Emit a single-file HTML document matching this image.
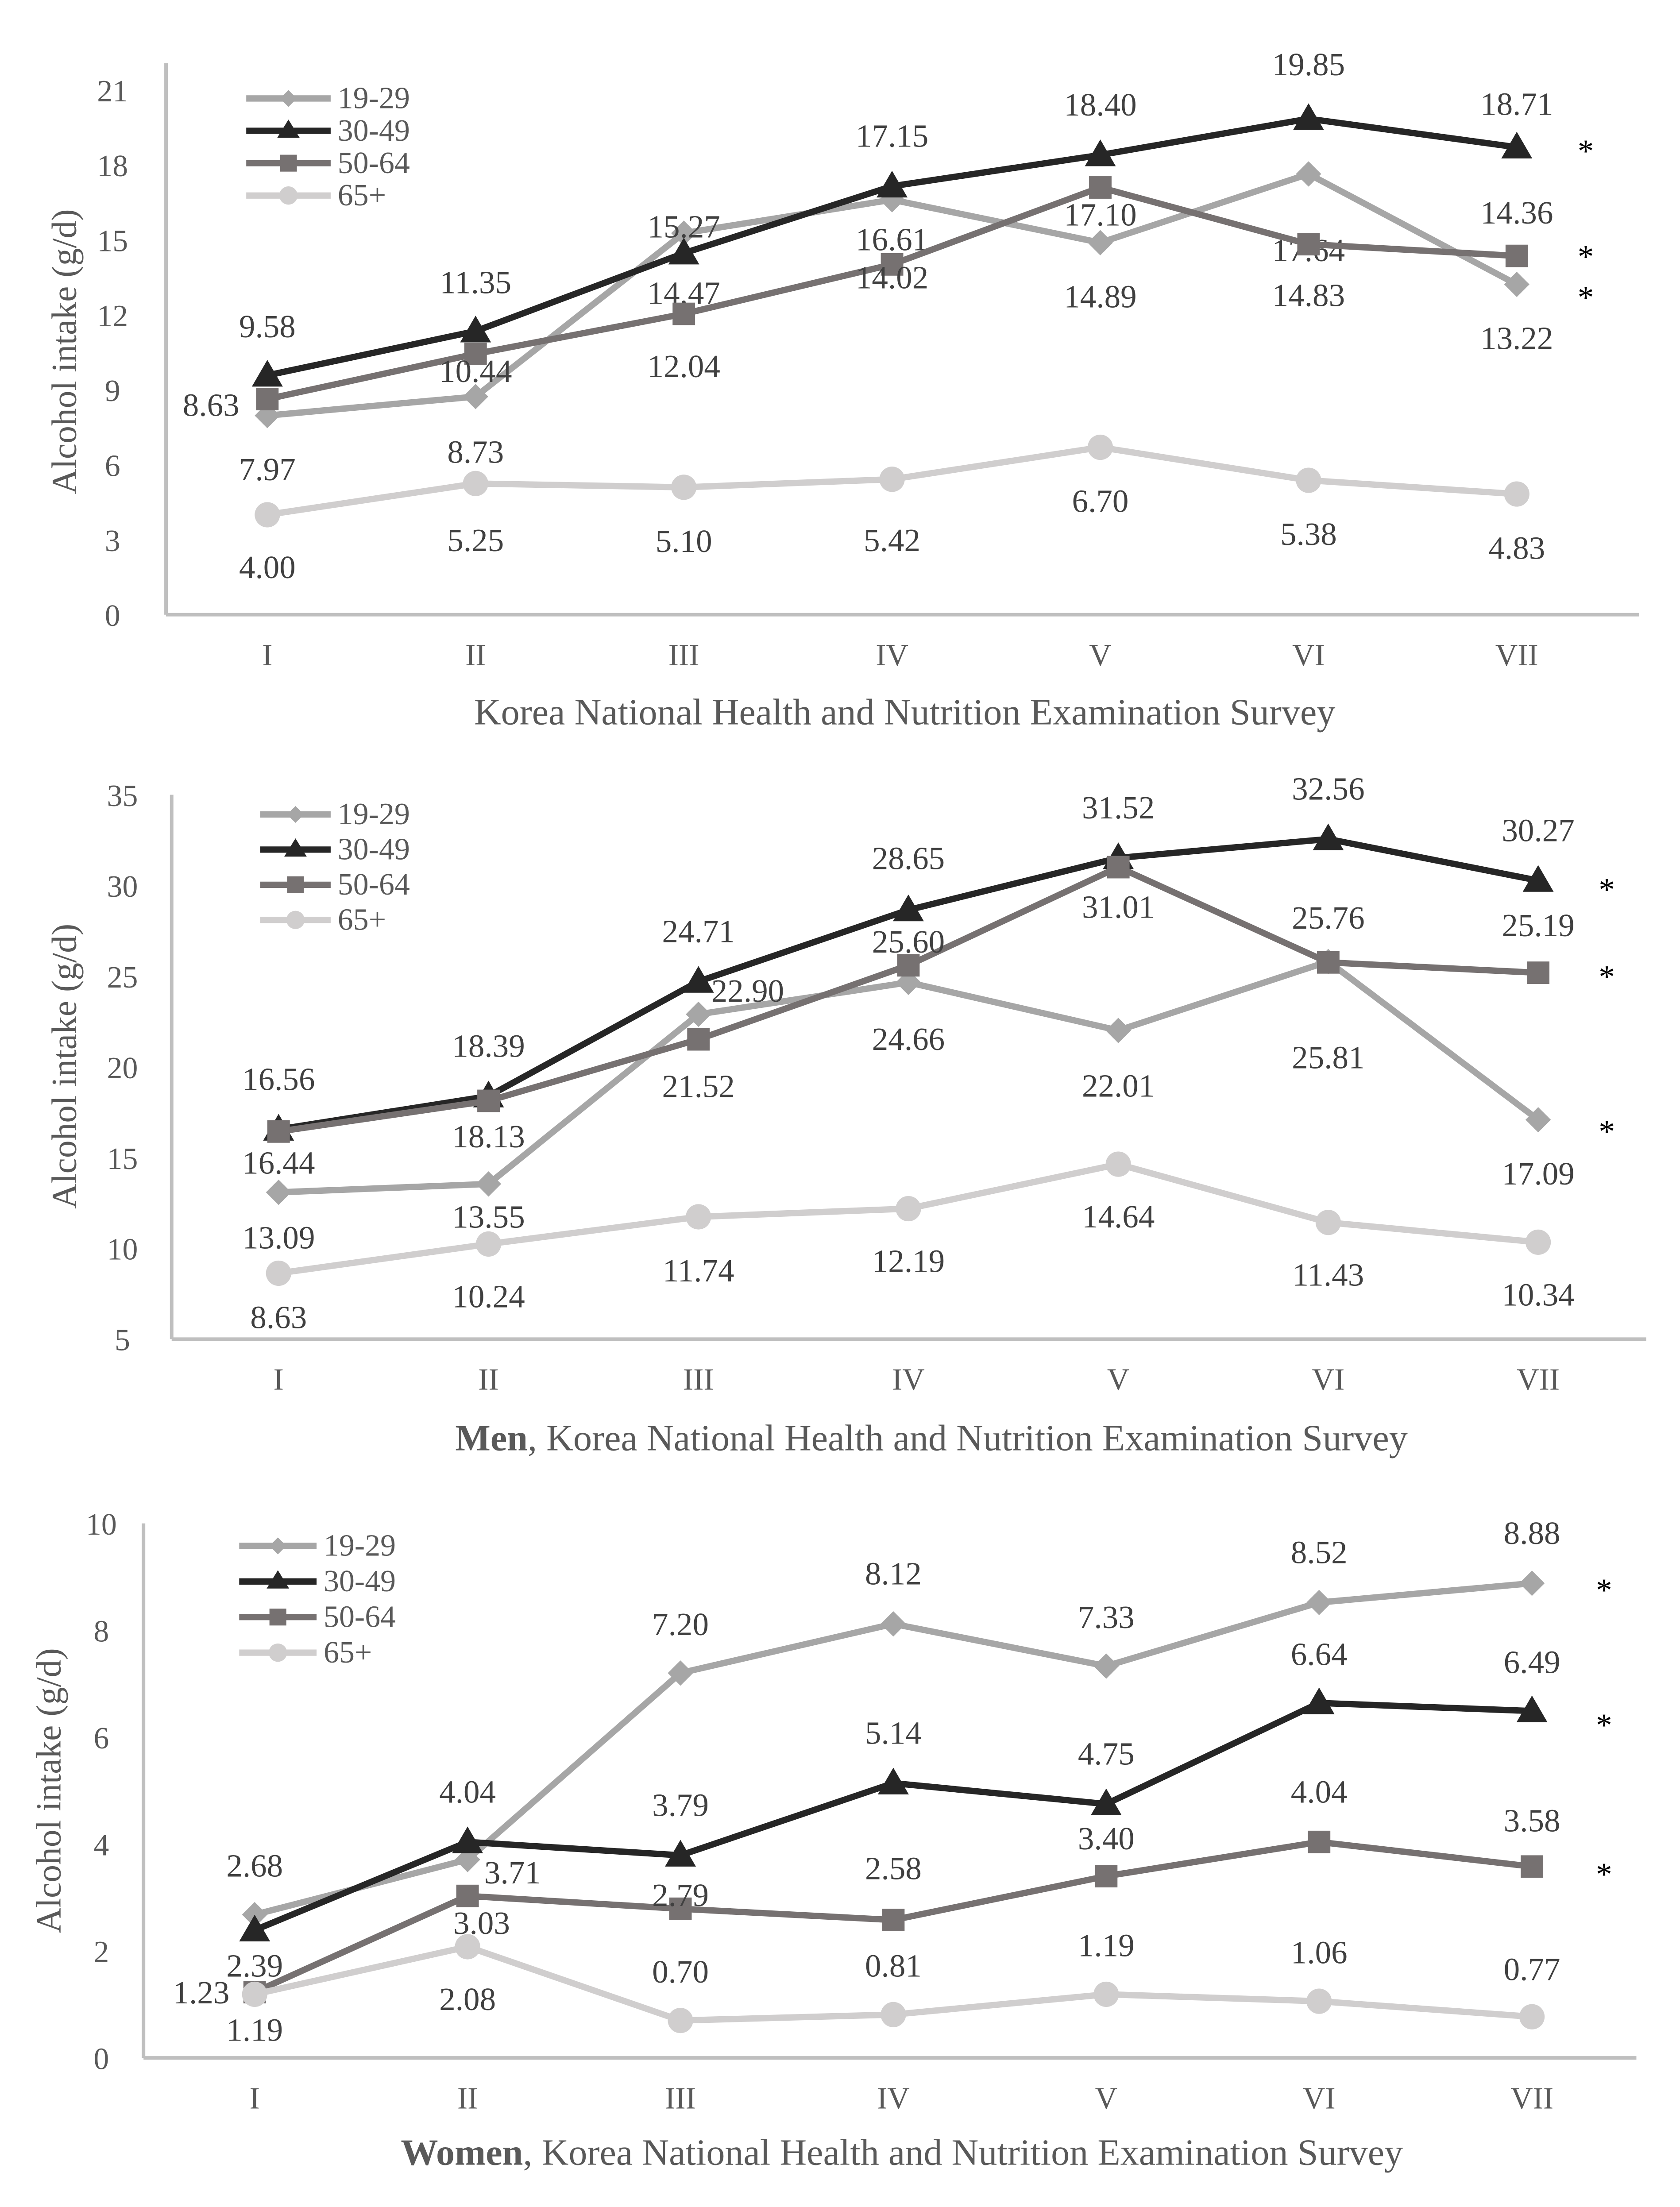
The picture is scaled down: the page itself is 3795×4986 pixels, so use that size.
<!DOCTYPE html>
<html><head><meta charset="utf-8">
<style>
html,body{margin:0;padding:0;background:#fff;}
svg{display:block;}
text{font-family:"Liberation Serif",serif;}
</style></head>
<body>
<svg id="fig" width="3795" height="4986" viewBox="0 0 1194 1569" preserveAspectRatio="none" xmlns="http://www.w3.org/2000/svg">
<rect width="1200" height="1600" fill="#fff"/>
</svg>
<script>
const categories = ["I","II","III","IV","V","VI","VII"];
const seriesNames = ["19-29","30-49","50-64","65+"];
// Chart 1: total
const c1_1929 = [7.97,8.73,15.27,16.61,14.89,17.64,13.22];
const c1_3049 = [9.58,11.35,14.47,17.15,18.40,19.85,18.71];
const c1_5064 = [8.63,10.44,12.04,14.02,17.10,14.83,14.36];
const c1_65 = [4.00,5.25,5.10,5.42,6.70,5.38,4.83];
const c1_ticks = [0,3,6,9,12,15,18,21];
// Chart 2: men
const c2_1929 = [13.09,13.55,22.90,24.66,22.01,25.81,17.09];
const c2_3049 = [16.56,18.39,24.71,28.65,31.52,32.56,30.27];
const c2_5064 = [16.44,18.13,21.52,25.60,31.01,25.76,25.19];
const c2_65 = [8.63,10.24,11.74,12.19,14.64,11.43,10.34];
const c2_ticks = [5,10,15,20,25,30,35];
// Chart 3: women
const c3_1929 = [2.68,3.71,7.20,8.12,7.33,8.52,8.88];
const c3_3049 = [2.39,4.04,3.79,5.14,4.75,6.64,6.49];
const c3_5064 = [1.23,3.03,2.79,2.58,3.40,4.04,3.58];
const c3_65 = [1.19,2.08,0.70,0.81,1.19,1.06,0.77];
const c3_ticks = [0,2,4,6,8,10];

const NS="http://www.w3.org/2000/svg";
const svg=document.getElementById('fig');
function mk(tag,attrs,parent){const e=document.createElementNS(NS,tag);for(const k in attrs)e.setAttribute(k,attrs[k]);(parent||svg).appendChild(e);return e;}
const colors=["#a6a6a6","#262626","#767171","#d0cece"];
const markers=["diamond","triangle","square","circle"];
function marker(g,type,x,y,c){
  let e;
  if(type==="diamond")e=mk('polygon',{points:`${x},${y-9} ${x+9},${y} ${x},${y+9} ${x-9},${y}`,fill:c},g);
  else if(type==="triangle")e=mk('polygon',{points:`${x},${y-11} ${x+11},${y+8} ${x-11},${y+8}`,fill:c},g);
  else if(type==="square")e=mk('rect',{x:x-8,y:y-8,width:16,height:16,fill:c},g);
  else e=mk('circle',{cx:x,cy:y,r:9,fill:c},g);
  
  
}
function chart(cfg){
  const g=mk('g',{});
  
  
  const yS=v=>cfg.y0-(v-cfg.ticks[0])*(cfg.y0-cfg.yTop)/(cfg.ticks[cfg.ticks.length-1]-cfg.ticks[0]);
  const xS=i=>cfg.x0+i*cfg.dx;
  let a=mk('line',{x1:cfg.ax,y1:cfg.axTop,x2:cfg.ax,y2:cfg.y0,stroke:"#bfbfbf","stroke-width":2.5},g);
  
  a=mk('line',{x1:cfg.ax,y1:cfg.y0,x2:cfg.axR,y2:cfg.y0,stroke:"#bfbfbf","stroke-width":2.5},g);
  
  cfg.ticks.forEach(t=>{const e=mk('text',{x:cfg.tx,y:yS(t)+8,"text-anchor":"middle","font-size":22,fill:"#595959"},g);e.textContent=t;
    });
  categories.forEach((c,i)=>{const e=mk('text',{x:xS(i),y:cfg.y0+36,"text-anchor":"middle","font-size":22,fill:"#595959"},g);e.textContent=c;
    });
  const yt=mk('text',{x:0,y:0,transform:`translate(${cfg.ytx},${cfg.yty}) rotate(-90)`,"text-anchor":"middle","font-size":25,fill:"#595959"},g);
  yt.textContent="Alcohol intake (g/d)";
  
  const xt=mk('text',{x:cfg.titleX,y:cfg.titleY,"text-anchor":"middle","font-size":26.5,fill:"#595959"},g);
  if(cfg.bold){const b=mk('tspan',{"font-weight":"bold"},xt);b.textContent=cfg.bold;xt.appendChild(document.createTextNode(", Korea National Health and Nutrition Examination Survey"));}
  else xt.textContent="Korea National Health and Nutrition Examination Survey";
  
  cfg.series.forEach((vals,s)=>{
    const sg=mk('g',{},g);
    
    
    const pts=vals.map((v,i)=>xS(i)+','+yS(v)).join(' ');
    const pl=mk('polyline',{points:pts,fill:"none",stroke:colors[s],"stroke-width":4.5,"stroke-linejoin":"round"},sg);
    
    vals.forEach((v,i)=>marker(sg,markers[s],xS(i),yS(v),colors[s]));
    vals.forEach((v,i)=>{const o=cfg.off[s][i];const e=mk('text',{x:xS(i)+(o[1]||0),y:yS(v)+o[0]+8,"text-anchor":"middle","font-size":23,fill:"#404040"},sg);
      e.textContent=v.toFixed(2);});
  });
  const lg=mk('g',{},g);
  
  seriesNames.forEach((n,s)=>{const y=cfg.leg.y+s*cfg.leg.dy;
    const le=mk('g',{},lg);
    mk('line',{x1:cfg.leg.x1,y1:y,x2:cfg.leg.x2,y2:y,stroke:colors[s],"stroke-width":4.5},le);
    const mx=(cfg.leg.x1+cfg.leg.x2)/2;
    if(s===0)mk('polygon',{points:`${mx},${y-6} ${mx+6},${y} ${mx},${y+6} ${mx-6},${y}`,fill:colors[s]},le);
    else if(s===1)mk('polygon',{points:`${mx},${y-8} ${mx+8},${y+5} ${mx-8},${y+5}`,fill:colors[s]},le);
    else if(s===2)mk('rect',{x:mx-6,y:y-6,width:12,height:12,fill:colors[s]},le);
    else mk('circle',{cx:mx,cy:y,r:6.5,fill:colors[s]},le);
    const t=mk('text',{x:cfg.leg.x2+5,y:y+7,"font-size":22,fill:"#595959"},le);t.textContent=n;});
  cfg.stars.forEach(y=>{const e=mk('text',{x:cfg.starX,y:y+10,"text-anchor":"middle","font-size":23,fill:"#000"},g);e.textContent="*";
    });
}
chart({name:'chart-total',ticks:c1_ticks,y0:437,yTop:64,ax:118,axTop:45,axR:1165,x0:190,dx:148,tx:80,ytx:54,yty:250,titleX:643,titleY:515,
 series:[c1_1929,c1_3049,c1_5064,c1_65],
 off:[[[38],[39],[-5],[28],[38],[54],[38]],[[-35],[-35],[28],[-36],[-36],[-39],[-31]],[[4,-40],[12],[37],[9],[19],[36],[-31]],[[37],[40],[38],[43],[38],[38],[38]]],
 leg:{x1:175,x2:235,y:70,dy:23},stars:[105,180,209],starX:1127});
chart({name:'chart-men',ticks:c2_ticks,y0:952,yTop:565,ax:122,axTop:565,axR:1170,x0:198,dx:149.2,tx:87,ytx:54,yty:758,titleX:662,titleY:1031,bold:"Men",
 series:[c2_1929,c2_3049,c2_5064,c2_65],
 off:[[[32],[23],[-17,35],[40],[39],[68],[38]],[[-36],[-36],[-36],[-37],[-36],[-36],[-36]],[[22],[25],[33],[-17],[28],[-32],[-34]],[[31],[37],[38],[37],[37],[37],[37]]],
 leg:{x1:185,x2:235,y:579,dy:25},stars:[630,692,802],starX:1142});
chart({name:'chart-women',ticks:c3_ticks,y0:1463,yTop:1083,ax:102,axTop:1083,axR:1163,x0:181,dx:151.3,tx:72,ytx:43,yty:1273,titleX:641,titleY:1539,bold:"Women",
 series:[c3_1929,c3_3049,c3_5064,c3_65],
 off:[[[-35],[9,32],[-35],[-36],[-35],[-36],[-36]],[[25],[-36],[-36],[-36],[-36],[-35],[-35]],[[0,-38],[19,10],[-10],[-37],[-27],[-36],[-33]],[[25],[37],[-35],[-35],[-35],[-35],[-34]]],
 leg:{x1:170,x2:225,y:1099,dy:25.3},stars:[1128,1224,1330],starX:1140});
</script>
</body></html>
